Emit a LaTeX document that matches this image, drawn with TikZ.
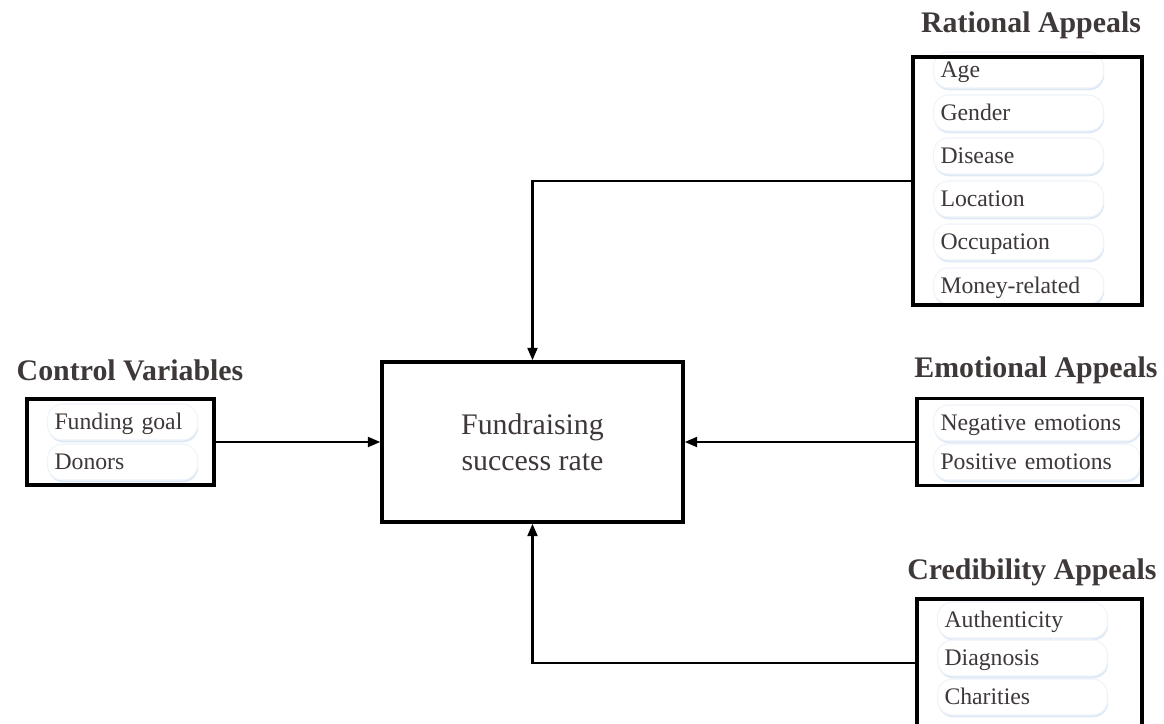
\documentclass[tikz,border=0pt]{standalone}
\usepackage{fontspec}
\setmainfont{Liberation Serif}
\usetikzlibrary{arrows.meta, positioning, shadows}
\definecolor{txtcol}{RGB}{62,56,56}
\definecolor{pilledge}{RGB}{218,230,244}

\begin{document}
\begin{tikzpicture}[x=0.02cm, y=-0.02cm,
  box/.style={draw, line width=2pt, inner sep=0pt},
  pill/.style={draw=pilledge!45, line width=0.6pt, fill=white, rounded corners=0.3cm,
               drop shadow={shadow xshift=0.4pt, shadow yshift=-1.3pt,
                            fill=pilledge, opacity=0.9},
               minimum height=0.72cm, inner xsep=0.14cm, inner ysep=0pt,
               text width=#1, align=left, anchor=west, text=txtcol,
               text height=0.9em, text depth=0.1em,
               font=\fontsize{13.5}{15}\selectfont},
  title/.style={font=\fontsize{17}{20}\selectfont\bfseries, text=txtcol},
  conn/.style={line width=1.3pt, -{Triangle[length=0.25cm, width=0.2cm]}}]
  \useasboundingbox (0,0) rectangle (1164,724);
  \clip (0,0) rectangle (1164,724);

  % items of each group
  \foreach \i/\txt/\ypos in {1/Age/70, 2/Gender/113, 3/Disease/156,
                              4/Location/199, 5/Occupation/242, 6/Money-related/286}
    \node[pill=3.12cm] (ra\i) at (933,\ypos) {\txt};
  \foreach \i/\txt/\ypos in {1/Funding goal/422, 2/Donors/462}
    \node[pill=2.72cm] (cv\i) at (47,\ypos) {\txt};
  \foreach \i/\txt/\ypos in {1/Negative emotions/423, 2/Positive emotions/462}
    \node[pill=3.86cm] (ea\i) at (933,\ypos) {\txt};
  \foreach \i/\txt/\ypos in {1/Authenticity/620, 2/Diagnosis/658, 3/Charities/697}
    \node[pill=3.12cm] (ca\i) at (937,\ypos) {\txt};

  % group boxes
  \node[box, minimum width=4.58cm, minimum height=4.96cm] (rational) at (1027.5,181) {};
  \node[box, minimum width=3.74cm, minimum height=1.72cm] (control) at (120.5,442) {};
  \node[box, minimum width=4.5cm, minimum height=1.74cm] (emotional) at (1029.5,442) {};
  \node[box, minimum width=4.5cm, minimum height=2.56cm] (credible) at (1029.5,663) {};

  \node[title] (rationalT) at (1031,25) {Rational Appeals};
  \node[title] (controlT) at (130,370) {Control Variables};
  \node[title] (emotionalT) at (1036,370) {Emotional Appeals};
  \node[title] (credibleT) at (1032,572) {Credibility Appeals};

  % outcome
  \node[box, minimum width=6.02cm, minimum height=3.2cm, align=center, text=txtcol,
        font=\fontsize{17}{20.5}\selectfont] (rate) at (532.5,442)
    {Fundraising\\success rate};

  \draw[conn] (rational.west) -| (rate.north);
  \draw[conn] (control.east) -- (rate.west);
  \draw[conn] (emotional.west) -- (rate.east);
  \draw[conn] (credible.west) -| (rate.south);
\end{tikzpicture}
\end{document}
